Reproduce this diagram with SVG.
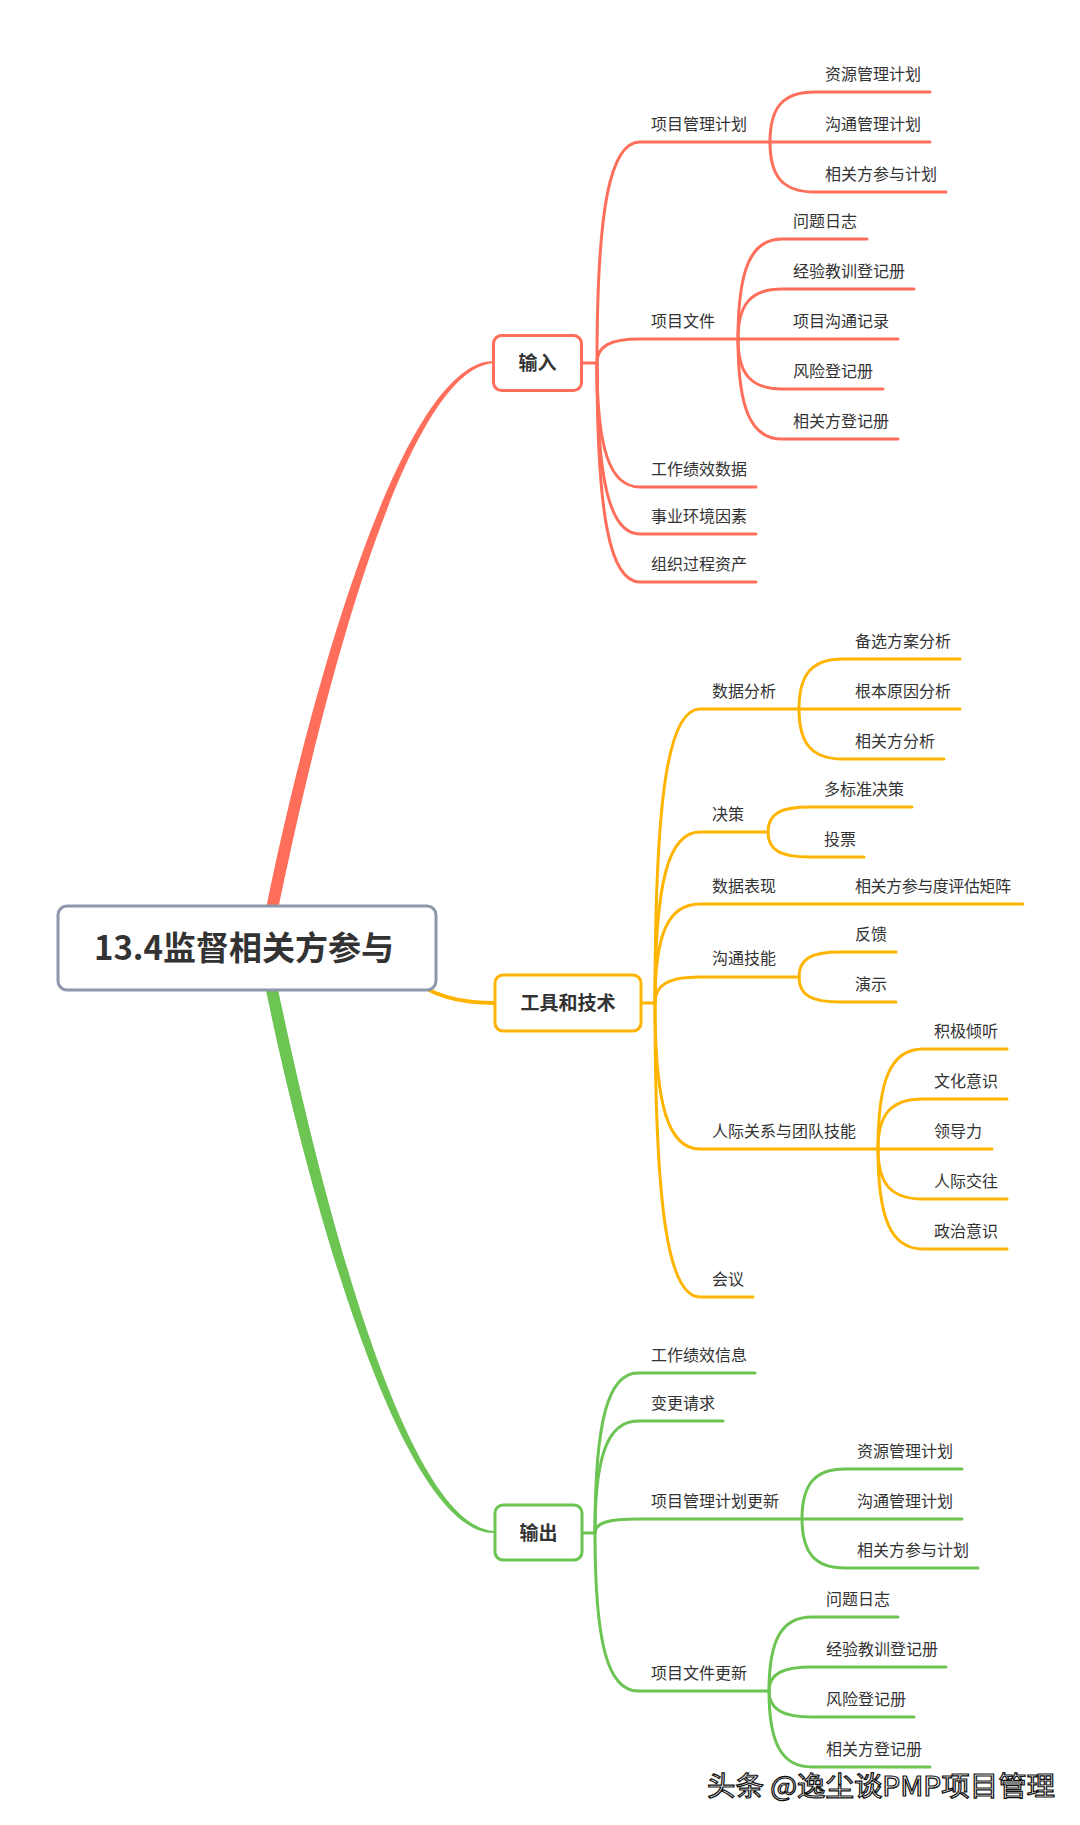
<svg xmlns="http://www.w3.org/2000/svg" width="1080" height="1825" viewBox="0 0 1080 1825">
<style>
text{font-family:"Noto Sans CJK SC","Noto Sans",sans-serif;fill:#333333}
.t{font-size:16px}
.b1{font-size:19px;font-weight:bold}
.root{font-size:33px;font-weight:bold}
.c{fill:none;stroke-width:3;stroke-linecap:round}
.r{stroke:#FF6E5A}
.y{stroke:#FFB400}
.g{stroke:#6CC453}
.box{fill:#ffffff;stroke-width:3}
.wm{font-size:27px;fill:#ffffff;stroke:#111111;stroke-width:1.2}
</style>
<rect width="1080" height="1825" fill="#ffffff"/>
<g id="connectors">
  <!-- main tapered branches -->
  <path d="M262,930 C293,765 393,358.5 495,361 L495,363 C397,366 307,765 274,930 Z" fill="#FF6E5A"/>
  <path d="M262,970 C293,1130 393,1536.5 495,1533 L495,1531 C397,1528 307,1130 274,970 Z" fill="#6CC453"/>
  <path d="M405,975 C432,996 458,1003 496,1003" fill="none" stroke="#FFB400" stroke-width="4"/>
  <!-- red -->
  <g class="c r">
    <path d="M582,363 H597"/>
    <path d="M597,363 C597,208 610,142 640,142 H930"/>
    <path d="M597,363 C597,346 610,339 640,339 H898"/>
    <path d="M597,363 C597,450 610,487 640,487 H756"/>
    <path d="M597,363 C597,483 610,534 640,534 H756"/>
    <path d="M597,363 C597,516 610,582 640,582 H756"/>
    <path d="M770,142 C770,107 783,92 815,92 H930"/>
    <path d="M770,142 C770,177 783,192 815,192 H946"/>
    <path d="M738,339 C738,269 751,239 782,239 H867"/>
    <path d="M738,339 C738,304 751,289 782,289 H914"/>
    <path d="M738,339 C738,374 751,389 782,389 H883"/>
    <path d="M738,339 C738,409 751,439 782,439 H898"/>
  </g>
  <!-- yellow -->
  <g class="c y">
    <path d="M641,1003 H655"/>
    <path d="M655,1003 C655,797 668,709 700,709 H960"/>
    <path d="M655,1003 C655,883 668,832 700,832 H768"/>
    <path d="M655,1003 C655,934 668,904 700,904 H1023"/>
    <path d="M655,1003 C655,985 668,977 700,977 H799"/>
    <path d="M655,1003 C655,1105 668,1149 700,1149 H992"/>
    <path d="M655,1003 C655,1209 668,1297 700,1297 H753"/>
    <path d="M799,709 C799,674 812,659 843,659 H960"/>
    <path d="M799,709 C799,744 812,759 843,759 H944"/>
    <path d="M768,832 C768,814 780,807 810,807 H912"/>
    <path d="M768,832 C768,850 780,857 810,857 H864"/>
    <path d="M799,977 C799,959 811,952 840,952 H896"/>
    <path d="M799,977 C799,995 811,1002 840,1002 H896"/>
    <path d="M878,1149 C878,1079 891,1049 923,1049 H1007"/>
    <path d="M878,1149 C878,1114 891,1099 923,1099 H1007"/>
    <path d="M878,1149 C878,1184 891,1199 923,1199 H1007"/>
    <path d="M878,1149 C878,1219 891,1249 923,1249 H1007"/>
  </g>
  <!-- green -->
  <g class="c g">
    <path d="M582,1533 H595"/>
    <path d="M595,1533 C595,1421 608,1373 638,1373 H755"/>
    <path d="M595,1533 C595,1455 608,1421 638,1421 H723"/>
    <path d="M595,1533 C595,1523 608,1519 638,1519 H962"/>
    <path d="M595,1533 C595,1644 608,1691 638,1691 H769"/>
    <path d="M802,1519 C802,1484 815,1469 845,1469 H962"/>
    <path d="M802,1519 C802,1553 815,1568 845,1568 H978"/>
    <path d="M769,1691 C769,1639 782,1617 812,1617 H898"/>
    <path d="M769,1691 C769,1674 782,1667 812,1667 H946"/>
    <path d="M769,1691 C769,1709 782,1717 812,1717 H914"/>
    <path d="M769,1691 C769,1744 782,1767 812,1767 H930"/>
  </g>
</g>
<g id="root">
  <rect class="box" x="58" y="906" width="378" height="84" rx="9" stroke="#8D98AA"/>
  <text class="root" x="244" y="960" text-anchor="middle">13.4监督相关方参与</text>
</g>
<g id="input">
  <rect class="box" x="493.5" y="335.5" width="88" height="55" rx="8" stroke="#FF6E5A"/>
  <text class="b1" x="537.5" y="370" text-anchor="middle">输入</text>
</g>
<g id="tools">
  <rect class="box" x="495" y="975" width="146" height="56" rx="8" stroke="#FFB400"/>
  <text class="b1" x="568" y="1010" text-anchor="middle">工具和技术</text>
</g>
<g id="output">
  <rect class="box" x="495" y="1505" width="87" height="55" rx="8" stroke="#6CC453"/>
  <text class="b1" x="538.5" y="1540" text-anchor="middle">输出</text>
</g>
<g id="input-children">
  <g id="n-pmp"><text class="t" x="651" y="130">项目管理计划</text></g>
  <g id="n-pmp-1"><text class="t" x="825" y="80">资源管理计划</text></g>
  <g id="n-pmp-2"><text class="t" x="825" y="130">沟通管理计划</text></g>
  <g id="n-pmp-3"><text class="t" x="825" y="180">相关方参与计划</text></g>
  <g id="n-pd"><text class="t" x="651" y="327">项目文件</text></g>
  <g id="n-pd-1"><text class="t" x="793" y="227">问题日志</text></g>
  <g id="n-pd-2"><text class="t" x="793" y="277">经验教训登记册</text></g>
  <g id="n-pd-3"><text class="t" x="793" y="327">项目沟通记录</text></g>
  <g id="n-pd-4"><text class="t" x="793" y="377">风险登记册</text></g>
  <g id="n-pd-5"><text class="t" x="793" y="427">相关方登记册</text></g>
  <g id="n-wpd"><text class="t" x="651" y="475">工作绩效数据</text></g>
  <g id="n-eef"><text class="t" x="651" y="522">事业环境因素</text></g>
  <g id="n-opa"><text class="t" x="651" y="570">组织过程资产</text></g>
</g>
<g id="tools-children">
  <g id="n-da"><text class="t" x="712" y="697">数据分析</text></g>
  <g id="n-da-1"><text class="t" x="855" y="647">备选方案分析</text></g>
  <g id="n-da-2"><text class="t" x="855" y="697">根本原因分析</text></g>
  <g id="n-da-3"><text class="t" x="855" y="747">相关方分析</text></g>
  <g id="n-dm"><text class="t" x="712" y="820">决策</text></g>
  <g id="n-dm-1"><text class="t" x="824" y="795">多标准决策</text></g>
  <g id="n-dm-2"><text class="t" x="824" y="845">投票</text></g>
  <g id="n-dr"><text class="t" x="712" y="892">数据表现</text></g>
  <g id="n-dr-1"><text class="t" x="855" y="892" textLength="156" lengthAdjust="spacing">相关方参与度评估矩阵</text></g>
  <g id="n-cs"><text class="t" x="712" y="964">沟通技能</text></g>
  <g id="n-cs-1"><text class="t" x="855" y="940">反馈</text></g>
  <g id="n-cs-2"><text class="t" x="855" y="990">演示</text></g>
  <g id="n-is"><text class="t" x="712" y="1137">人际关系与团队技能</text></g>
  <g id="n-is-1"><text class="t" x="934" y="1037">积极倾听</text></g>
  <g id="n-is-2"><text class="t" x="934" y="1087">文化意识</text></g>
  <g id="n-is-3"><text class="t" x="934" y="1137">领导力</text></g>
  <g id="n-is-4"><text class="t" x="934" y="1187">人际交往</text></g>
  <g id="n-is-5"><text class="t" x="934" y="1237">政治意识</text></g>
  <g id="n-mt"><text class="t" x="712" y="1285">会议</text></g>
</g>
<g id="output-children">
  <g id="n-wpi"><text class="t" x="651" y="1361">工作绩效信息</text></g>
  <g id="n-cr"><text class="t" x="651" y="1409">变更请求</text></g>
  <g id="n-pmpu"><text class="t" x="651" y="1507">项目管理计划更新</text></g>
  <g id="n-pmpu-1"><text class="t" x="857" y="1457">资源管理计划</text></g>
  <g id="n-pmpu-2"><text class="t" x="857" y="1507">沟通管理计划</text></g>
  <g id="n-pmpu-3"><text class="t" x="857" y="1556">相关方参与计划</text></g>
  <g id="n-pdu"><text class="t" x="651" y="1679">项目文件更新</text></g>
  <g id="n-pdu-1"><text class="t" x="826" y="1605">问题日志</text></g>
  <g id="n-pdu-2"><text class="t" x="826" y="1655">经验教训登记册</text></g>
  <g id="n-pdu-3"><text class="t" x="826" y="1705">风险登记册</text></g>
  <g id="n-pdu-4"><text class="t" x="826" y="1755">相关方登记册</text></g>
</g>
<text class="wm" x="707" y="1796" textLength="348" lengthAdjust="spacingAndGlyphs">头条 @逸尘谈PMP项目管理</text>
</svg>
